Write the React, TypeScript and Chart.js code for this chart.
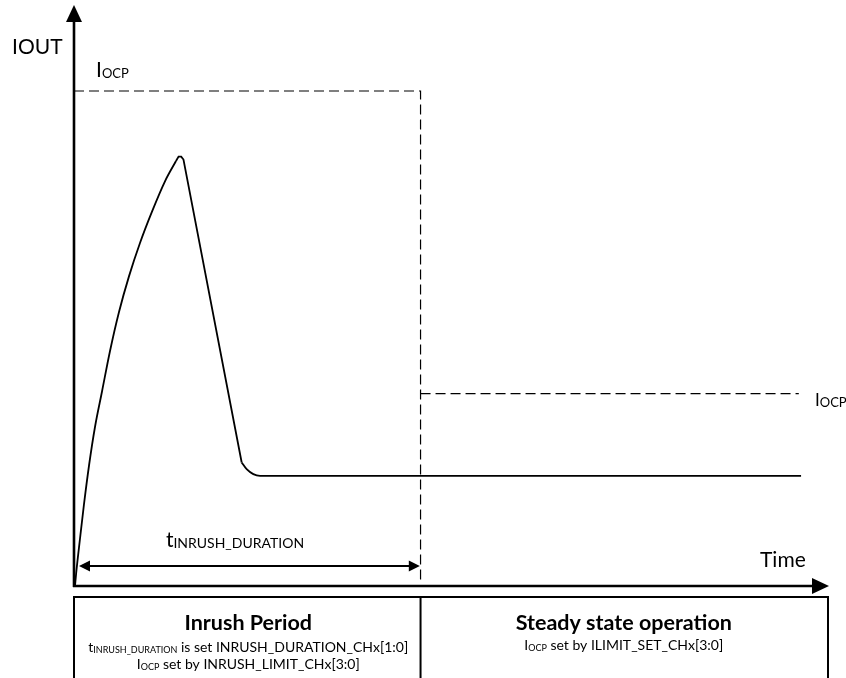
import React, { useEffect, useRef } from "react";
import { Chart, registerables } from "chart.js";

Chart.register(...registerables);

const FONT = "Lato, 'Open Sans', sans-serif";

// Schematic units: time 0..100, current 0..100
const riseTime = [0.13, 0.29, 0.79, 1.32, 1.99, 2.78, 3.71, 4.77, 5.96, 7.28, 8.74, 10.33, 12.05, 13.51];
const riseCurrent = [0, 2.24, 8.09, 14.04, 20.74, 27.37, 33.48, 40.45, 47.16, 53.29, 59.04, 64.44, 69.66, 73.15];

const dropTime = [13.51, 13.85, 14.2, 14.5, 22.21];
const dropCurrent = [73.15, 73.9, 73.9, 73.4, 21.26];

const settleTime = [22.21, 22.87, 23.75, 24.64, 96.3];
const settleCurrent = [21.26, 20.1, 19.26, 18.97, 18.97];

const inrushLimitTime = [0, 45.9, 45.9];
const inrushLimitCurrent = [85.2, 85.2, 0.9];

const steadyLimitTime = [45.9, 96.0];
const steadyLimitCurrent = [33.1, 33.1];

const inrushEnd = 45.9;
const durationArrow = [0.66, 45.8];
const durationArrowLevel = 3.45;

const axisLabels = { y: "IOUT", x: "Time" };
const periodTitles = ["Inrush Period", "Steady state operation"];

const toPts = (xs: number[], ys: number[]) => xs.map((x, i) => ({ x, y: ys[i] }));

type Run = { text: string; font: string; dy?: number };

function drawRuns(ctx: CanvasRenderingContext2D, runs: Run[], x: number, y: number, align: "left" | "center") {
  let total = 0;
  const widths = runs.map((r) => {
    ctx.font = r.font;
    const w = ctx.measureText(r.text).width;
    total += w;
    return w;
  });
  let cx = align === "center" ? x - total / 2 : x;
  ctx.textAlign = "left";
  ctx.textBaseline = "alphabetic";
  runs.forEach((r, i) => {
    ctx.font = r.font;
    ctx.fillText(r.text, cx, y + (r.dy || 0));
    cx += widths[i];
  });
}

const diagramPlugin = {
  id: "diagram",
  afterDraw(chart: any) {
    const { ctx, chartArea, scales } = chart;
    const { left, right, top, bottom } = chartArea;
    const xs = scales.x;
    const ys = scales.y;
    ctx.save();
    ctx.strokeStyle = "#000";
    ctx.fillStyle = "#000";
    ctx.setLineDash([]);

    // Y axis with arrow
    ctx.lineWidth = 2.6;
    ctx.beginPath();
    ctx.moveTo(left, bottom + 1);
    ctx.lineTo(left, top + 14);
    ctx.stroke();
    ctx.beginPath();
    ctx.moveTo(left, top);
    ctx.lineTo(left - 8, top + 17);
    ctx.lineTo(left + 8, top + 17);
    ctx.closePath();
    ctx.fill();

    // X axis with arrow
    ctx.beginPath();
    ctx.moveTo(left - 1, bottom);
    ctx.lineTo(right - 14, bottom);
    ctx.stroke();
    ctx.beginPath();
    ctx.moveTo(right, bottom);
    ctx.lineTo(right - 17, bottom - 8);
    ctx.lineTo(right - 17, bottom + 8);
    ctx.closePath();
    ctx.fill();

    // Duration double arrow
    const ay = ys.getPixelForValue(durationArrowLevel);
    const ax0 = xs.getPixelForValue(durationArrow[0]);
    const ax1 = xs.getPixelForValue(durationArrow[1]);
    ctx.lineWidth = 2;
    ctx.beginPath();
    ctx.moveTo(ax0 + 6, ay);
    ctx.lineTo(ax1 - 6, ay);
    ctx.stroke();
    ctx.beginPath();
    ctx.moveTo(ax0, ay);
    ctx.lineTo(ax0 + 11, ay - 5.5);
    ctx.lineTo(ax0 + 11, ay + 5.5);
    ctx.closePath();
    ctx.fill();
    ctx.beginPath();
    ctx.moveTo(ax1, ay);
    ctx.lineTo(ax1 - 11, ay - 5.5);
    ctx.lineTo(ax1 - 11, ay + 5.5);
    ctx.closePath();
    ctx.fill();

    // Table
    const tTop = bottom + 11;
    const tBottom = chart.height + 10;
    const divX = xs.getPixelForValue(inrushEnd);
    ctx.lineWidth = 2;
    ctx.strokeRect(left, tTop, right - 1 - left, tBottom - tTop);
    ctx.beginPath();
    ctx.moveTo(divX, tTop);
    ctx.lineTo(divX, tBottom);
    ctx.stroke();

    // Labels
    const big = `21px ${FONT}`;
    const sub = `13px ${FONT}`;
    drawRuns(ctx, [{ text: axisLabels.y, font: big }], 12, 54, "left");
    drawRuns(ctx, [{ text: "I", font: big }, { text: "OCP", font: sub, dy: 1 }], 96, 77, "left");
    drawRuns(ctx, [{ text: "I", font: `17px ${FONT}` }, { text: "OCP", font: sub, dy: 1 }], 815, 406, "left");
    drawRuns(ctx, [{ text: "t", font: big }, { text: "INRUSH_DURATION", font: `14px ${FONT}`, dy: 1 }], 235, 547, "center");
    drawRuns(ctx, [{ text: axisLabels.x, font: big }], 760, 567, "left");

    const leftC = (left + divX) / 2 + 1;
    const rightC = (divX + right) / 2 - 1;
    const bold = `bold 21.5px ${FONT}`;
    const small = `14px ${FONT}`;
    const tiny = `9px ${FONT}`;
    drawRuns(ctx, [{ text: periodTitles[0], font: bold }], leftC, 630, "center");
    drawRuns(ctx, [
      { text: "t", font: small },
      { text: "INRUSH_DURATION", font: tiny, dy: 1 },
      { text: " is set INRUSH_DURATION_CHx[1:0]", font: small },
    ], leftC, 652, "center");
    drawRuns(ctx, [
      { text: "I", font: small },
      { text: "OCP", font: tiny, dy: 1 },
      { text: " set by INRUSH_LIMIT_CHx[3:0]", font: small },
    ], leftC, 669, "center");
    drawRuns(ctx, [{ text: periodTitles[1], font: bold }], rightC, 630, "center");
    drawRuns(ctx, [
      { text: "I", font: small },
      { text: "OCP", font: tiny, dy: 1 },
      { text: " set by ILIMIT_SET_CHx[3:0]", font: small },
    ], rightC, 650, "center");

    ctx.restore();
  },
};

export default function App() {
  const ref = useRef<HTMLCanvasElement | null>(null);
  useEffect(() => {
    if (!ref.current) return;
    const line = (data: any, extra: any = {}) => ({
      data,
      showLine: true,
      borderColor: "#000",
      borderWidth: 1.8,
      pointRadius: 0,
      fill: false,
      ...extra,
    });
    const chart = new Chart(ref.current, {
      type: "scatter",
      data: {
        datasets: [
          line(toPts(riseTime, riseCurrent), { cubicInterpolationMode: "monotone" }),
          line(toPts(dropTime, dropCurrent), { tension: 0 }),
          line(toPts(settleTime, settleCurrent), { cubicInterpolationMode: "monotone" }),
          line(toPts(inrushLimitTime, inrushLimitCurrent), { borderWidth: 1.2, borderDash: [10, 5], tension: 0 }),
          line(toPts(steadyLimitTime, steadyLimitCurrent), { borderWidth: 1.2, borderDash: [10, 5], tension: 0 }),
        ],
      },
      options: {
        responsive: false,
        animation: false,
        layout: { padding: { left: 74, right: 17, top: 5, bottom: 92 } },
        scales: {
          x: { type: "linear", min: 0, max: 100, display: false },
          y: { type: "linear", min: 0, max: 100, display: false },
        },
        plugins: { legend: { display: false }, tooltip: { enabled: false } },
      },
      plugins: [diagramPlugin],
    } as any);
    return () => chart.destroy();
  }, []);
  return (
    <div style={{ position: "fixed", left: 0, top: 0, width: 846, height: 678, background: "#fff" }}>
      <canvas ref={ref} width={846} height={678} style={{ display: "block", width: 846, height: 678 }} />
    </div>
  );
}
